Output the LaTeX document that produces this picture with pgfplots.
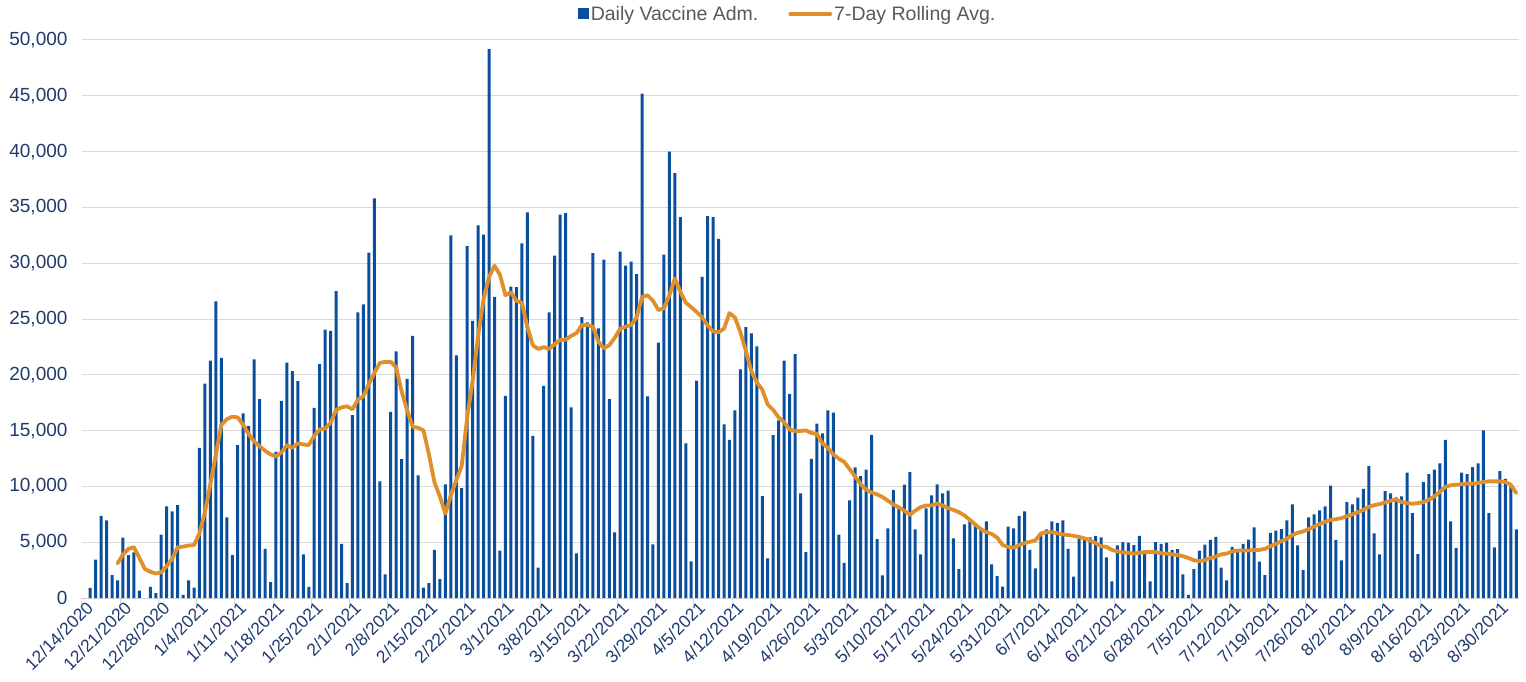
\documentclass[border=0pt]{standalone}
\usepackage{fontspec}
\setmainfont{Liberation Sans}
\usepackage{pgfplots}
\pgfplotsset{compat=1.18}
\definecolor{barblue}{HTML}{0A4F9E}
\definecolor{lineorange}{HTML}{E0902A}
\definecolor{ticknavy}{HTML}{1F3B6E}
\definecolor{gridgray}{HTML}{D9D9D9}
\definecolor{legtext}{HTML}{595959}
\begin{document}
\begin{tikzpicture}
\begin{axis}[
  scale only axis,
  width=1437bp, height=558bp,
  xmin=-0.5, xmax=262.5, ymin=0, ymax=50000,
  axis x line*=bottom, axis y line*=left,
  x axis line style={draw=gridgray, line width=1bp},
  y axis line style={draw=none},
  ymajorgrids, grid style={draw=gridgray, line width=1bp},
  ytick={0,5000,...,50000},
  scaled y ticks=false,
  major tick length=0pt,
  /pgf/number format/.cd, fixed, 1000 sep={,}, assume math mode=true,
  /pgfplots/.cd,
  yticklabel style={font=\fontsize{19bp}{23bp}\selectfont, text=ticknavy, xshift=-11bp},
  xtick={0,7,...,259},
  xticklabels={12/14/2020,12/21/2020,12/28/2020,1/4/2021,1/11/2021,1/18/2021,1/25/2021,2/1/2021,2/8/2021,2/15/2021,2/22/2021,3/1/2021,3/8/2021,3/15/2021,3/22/2021,3/29/2021,4/5/2021,4/12/2021,4/19/2021,4/26/2021,5/3/2021,5/10/2021,5/17/2021,5/24/2021,5/31/2021,6/7/2021,6/14/2021,6/21/2021,6/28/2021,7/5/2021,7/12/2021,7/19/2021,7/26/2021,8/2/2021,8/9/2021,8/16/2021,8/23/2021,8/30/2021},
  xticklabel style={font=\fontsize{17.5bp}{21bp}\selectfont, text=ticknavy, rotate=45, anchor=south east, inner sep=0pt, yshift=-15bp, xshift=-1bp},
  extra x ticks={-0.5,6.5,...,258.5},
  extra x tick labels={},
  extra x tick style={major tick length=6bp, tick align=outside, tick style={draw=gridgray, line width=1bp}, grid=none},
  legend columns=2,
  legend style={draw=none, fill=none, at={(0.491,1.046)}, anchor=center, font=\fontsize{19.5bp}{23bp}\selectfont, text=legtext, /tikz/every even column/.append style={column sep=28bp}, inner sep=0pt},
]
\addplot[ybar, bar width=3bp, bar shift=0pt, fill=barblue, draw=none,
  legend image code/.code={\fill[barblue] (0bp,-5bp) rectangle (11bp,6bp);}]
coordinates {
(0,0) (1,900) (2,3450) (3,7360) (4,6960) (5,2060) (6,1590) (7,5400) (8,3850) (9,4080)
(10,660) (11,0) (12,1000) (13,430) (14,5670) (15,8220) (16,7760) (17,8320) (18,270) (19,1590)
(20,930) (21,13460) (22,19200) (23,21260) (24,26590) (25,21520) (26,7230) (27,3850) (28,13700) (29,16550)
(30,15420) (31,21390) (32,17810) (33,4410) (34,1430) (35,13100) (36,17670) (37,21090) (38,20330) (39,19430)
(40,3910) (41,1000) (42,17040) (43,20960) (44,24040) (45,23940) (46,27490) (47,4840) (48,1330) (49,16380)
(50,25600) (51,26300) (52,30940) (53,35810) (54,10450) (55,2120) (56,16680) (57,22090) (58,12440) (59,19630)
(60,23480) (61,10980) (62,930) (63,1330) (64,4310) (65,1690) (66,10180) (67,32500) (68,21750) (69,9850)
(70,31540) (71,24840) (72,33390) (73,32560) (74,49180) (75,26990) (76,4250) (77,18110) (78,27890) (79,27850)
(80,31770) (81,34550) (82,14520) (83,2720) (84,19000) (85,25600) (86,30670) (87,34350) (88,34490) (89,17080)
(90,4010) (91,25170) (92,24700) (93,30910) (94,24170) (95,30310) (96,17810) (97,5870) (98,31040) (99,29780)
(100,30140) (101,29020) (102,45200) (103,18070) (104,4810) (105,22880) (106,30770) (107,39990) (108,38070) (109,34120)
(110,13860) (111,3280) (112,19470) (113,28780) (114,34220) (115,34120) (116,32170) (117,15550) (118,14160) (119,16810)
(120,20490) (121,24270) (122,23710) (123,22550) (124,9120) (125,3550) (126,14600) (127,15920) (128,21260) (129,18300)
(130,21850) (131,9380) (132,4110) (133,12470) (134,15620) (135,14760) (136,16810) (137,16610) (138,5670) (139,3150)
(140,8750) (141,11710) (142,10910) (143,11510) (144,14620) (145,5270) (146,2020) (147,6230) (148,9680) (149,7990)
(150,10150) (151,11270) (152,6140) (153,3910) (154,8030) (155,9190) (156,10180) (157,9380) (158,9620) (159,5340)
(160,2590) (161,6600) (162,7100) (163,6630) (164,6170) (165,6860) (166,3020) (167,1960) (168,1030) (169,6400)
(170,6230) (171,7360) (172,7760) (173,4310) (174,2650) (175,5700) (176,6140) (177,6860) (178,6730) (179,6960)
(180,4410) (181,1920) (182,5310) (183,5310) (184,5440) (185,5570) (186,5440) (187,3650) (188,1490) (189,4710)
(190,5010) (191,4970) (192,4740) (193,5570) (194,4250) (195,1490) (196,5010) (197,4850) (198,4970) (199,4310)
(200,4380) (201,2120) (202,270) (203,2590) (204,4250) (205,4780) (206,5210) (207,5470) (208,2720) (209,1590)
(210,4580) (211,4380) (212,4840) (213,5240) (214,6330) (215,3250) (216,2060) (217,5840) (218,6040) (219,6170)
(220,6960) (221,8390) (222,4710) (223,2520) (224,7230) (225,7490) (226,7860) (227,8220) (228,10080) (229,5210)
(230,3380) (231,8590) (232,8390) (233,8990) (234,9780) (235,11840) (236,5800) (237,3910) (238,9580) (239,9380)
(240,9020) (241,9110) (242,11240) (243,7610) (244,3940) (245,10380) (246,11090) (247,11510) (248,12070) (249,14170)
(250,6860) (251,4500) (252,11240) (253,11090) (254,11730) (255,12070) (256,15030) (257,7610) (258,4540) (259,11360)
(260,10680) (261,9970) (262,6150)
};
\addlegendentry{Daily Vaccine Adm.}
\addplot[lineorange, line width=3.8bp, line join=round, line cap=round, mark=none,
  legend image code/.code={\draw[lineorange, line width=3.8bp] (0bp,0bp) -- (40bp,0bp);}]
coordinates {
(6,3100) (7,3900) (8,4400) (9,4550) (10,3600) (11,2600) (12,2350) (13,2200) (14,2300) (15,2850)
(16,3500) (17,4550) (18,4600) (19,4700) (20,4750) (21,5800) (22,7700) (23,10200) (24,12870) (25,15520)
(26,16020) (27,16250) (28,16180) (29,15520) (30,14690) (31,14030) (32,13600) (33,13200) (34,12870) (35,12700)
(36,13030) (37,13700) (38,13460) (39,13860) (40,13760) (41,13700) (42,14520) (43,15100) (44,15190) (45,15690)
(46,16850) (47,17080) (48,17180) (49,16910) (50,17770) (51,18070) (52,19170) (53,20160) (54,21060) (55,21160)
(56,21160) (57,20660) (58,18500) (59,16850) (60,15350) (61,15250) (62,15020) (63,12870) (64,10380) (65,9100)
(66,7560) (67,9220) (68,10550) (69,11870) (70,16180) (71,19500) (72,23480) (73,26790) (74,28780) (75,29780)
(76,28950) (77,27130) (78,27390) (79,26630) (80,26460) (81,24310) (82,22650) (83,22320) (84,22480) (85,22320)
(86,22750) (87,23110) (88,23150) (89,23480) (90,23740) (91,24470) (92,24470) (93,24310) (94,22980) (95,22380)
(96,22650) (97,23310) (98,24140) (99,24310) (100,24470) (101,25140) (102,26960) (103,27130) (104,26630) (105,25800)
(106,25960) (107,27130) (108,28620) (109,27460) (110,26460) (111,26060) (112,25630) (113,25140) (114,24410) (115,23880)
(116,23810) (117,24140) (118,25530) (119,25140) (120,23810) (121,22150) (122,20330) (123,19330) (124,18670) (125,17340)
(126,16850) (127,16180) (128,15750) (129,15090) (130,14960) (131,14960) (132,15020) (133,14790) (134,14690) (135,13860)
(136,13460) (137,12870) (138,12470) (139,12200) (140,11540) (141,10880) (142,10210) (143,9720) (144,9450) (145,9290)
(146,9050) (147,8720) (148,8390) (149,8120) (150,7830) (151,7460) (152,7830) (153,8150) (154,8290) (155,8290)
(156,8460) (157,8290) (158,8060) (159,7890) (160,7690) (161,7400) (162,7000) (163,6570) (164,6170) (165,5900)
(166,5740) (167,5410) (168,4740) (169,4580) (170,4510) (171,4740) (172,4910) (173,5040) (174,5170) (175,5790)
(176,5900) (177,5900) (178,5800) (179,5700) (180,5640) (181,5570) (182,5470) (183,5340) (184,5170) (185,4910)
(186,4640) (187,4580) (188,4310) (189,4180) (190,4080) (191,4050) (192,3980) (193,4050) (194,4110) (195,4110)
(196,4110) (197,4010) (198,3980) (199,3910) (200,3850) (201,3750) (202,3580) (203,3380) (204,3320) (205,3380)
(206,3580) (207,3710) (208,3910) (209,3980) (210,4180) (211,4250) (212,4250) (213,4250) (214,4310) (215,4310)
(216,4410) (217,4640) (218,4840) (219,5100) (220,5310) (221,5640) (222,5840) (223,5970) (224,6170) (225,6400)
(226,6630) (227,6830) (228,7000) (229,7060) (230,7160) (231,7330) (232,7490) (233,7690) (234,7890) (235,8160)
(236,8320) (237,8420) (238,8560) (239,8720) (240,8820) (241,8600) (242,8500) (243,8450) (244,8500) (245,8600)
(246,8800) (247,9100) (248,9500) (249,9950) (250,10100) (251,10150) (252,10200) (253,10250) (254,10250) (255,10300)
(256,10400) (257,10450) (258,10450) (259,10450) (260,10400) (261,10150) (262,9400)
};
\addlegendentry{7-Day Rolling Avg.}
\coordinate (bl) at ([shift={(-82bp,-83bp)}]current axis.south west);
\coordinate (tr) at ([shift={(7bp,40bp)}]current axis.north east);
\end{axis}
\pgfresetboundingbox
\useasboundingbox (bl) rectangle (tr);
\end{tikzpicture}
\end{document}
